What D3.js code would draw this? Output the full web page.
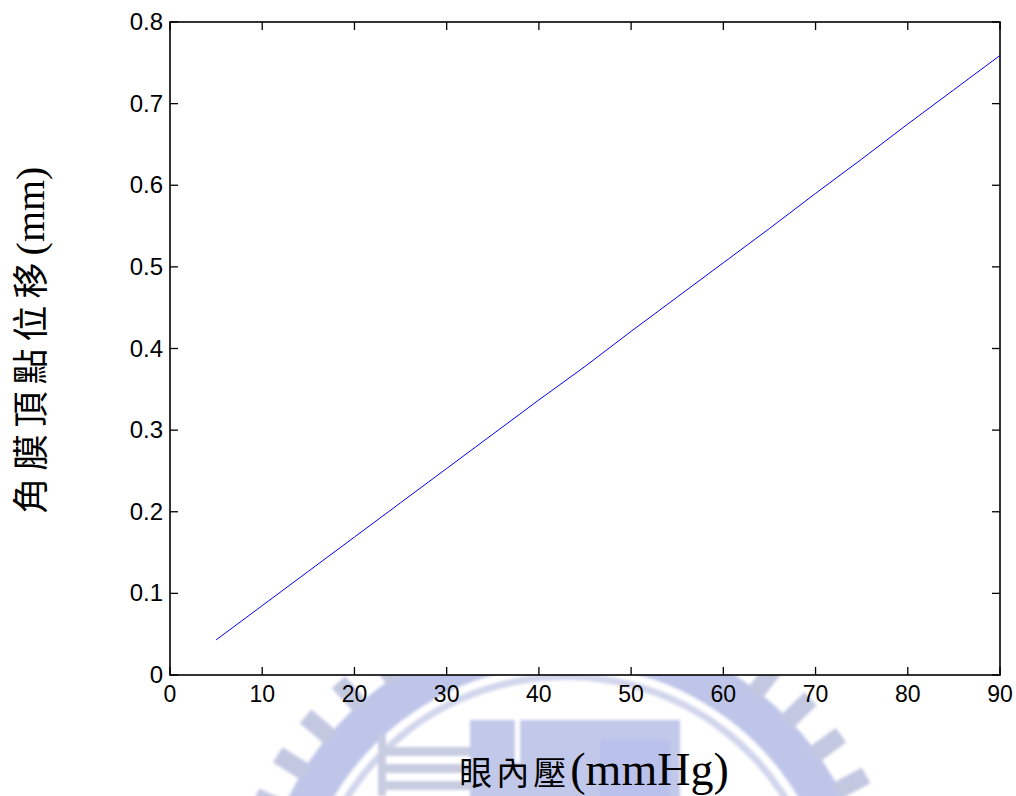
<!DOCTYPE html>
<html>
<head>
<meta charset="utf-8">
<script src="https://cdn.jsdelivr.net/npm/d3@7"></script>
<style>
  html, body { margin: 0; padding: 0; background: #fff; }
  svg { display: block; }
</style>
</head>
<body>
<svg id="chart" width="1016" height="796"></svg>
<script>
// Intraocular pressure (mmHg) vs. corneal apex displacement (mm)
const pressure = [5, 10, 15, 20, 25, 30, 35, 40, 45, 50, 55, 60, 65, 70, 75, 80, 85, 90];
const displacement = [0.043, 0.085, 0.127, 0.169, 0.211, 0.253, 0.295, 0.337, 0.378,
                      0.421, 0.463, 0.505, 0.547, 0.590, 0.632, 0.675, 0.717, 0.759];
const xTicks = [0, 10, 20, 30, 40, 50, 60, 70, 80, 90];
const yTicks = [0, 0.1, 0.2, 0.3, 0.4, 0.5, 0.6, 0.7, 0.8];
const xTitle = ["眼內壓", "(mmHg)"];
const yTitle = ["角膜頂點位移", "(mm)"];

const svg = d3.select("#chart");
const W = 1016, H = 796;
const m = { left: 170, right: 1000, top: 22, bottom: 675 };

const x = d3.scaleLinear().domain([0, 90]).range([m.left, m.right]);
const y = d3.scaleLinear().domain([0, 0.8]).range([m.bottom, m.top]);

// ---- faint university emblem behind the lower margin ----
const defs = svg.append("defs");
defs.append("filter").attr("id", "soft")
  .append("feGaussianBlur").attr("stdDeviation", 1.4);
defs.append("clipPath").attr("id", "below")
  .append("rect").attr("x", 0).attr("y", m.bottom).attr("width", W).attr("height", H - m.bottom);

const emb = svg.append("g").attr("clip-path", "url(#below)")
  .append("g").attr("filter", "url(#soft)").attr("opacity", 0.75);
const cx = 566, cy = 935;
const ring = emb.append("g").attr("transform", `translate(${cx},${cy})`);
ring.append("path")
  .attr("d", d3.arc().innerRadius(270).outerRadius(310)
    .startAngle(-75 * Math.PI / 180).endAngle(75 * Math.PI / 180)())
  .attr("fill", "#a9b2e2");
ring.append("path")
  .attr("d", d3.arc().innerRadius(255).outerRadius(262)
    .startAngle(-75 * Math.PI / 180).endAngle(75 * Math.PI / 180)())
  .attr("fill", "#c3c8e6");
d3.range(-74, 75, 8).forEach(a => {
  ring.append("rect")
    .attr("x", -9).attr("y", -340).attr("width", 18).attr("height", 34)
    .attr("fill", "#b0b6d8")
    .attr("transform", `rotate(${a})`);
});
emb.append("rect").attr("x", 470).attr("y", 720).attr("width", 210).attr("height", 80).attr("fill", "#aeb6e4");
emb.append("rect").attr("x", 515).attr("y", 718).attr("width", 5).attr("height", 45).attr("fill", "#ffffff");
emb.append("rect").attr("x", 600).attr("y", 740).attr("width", 70).attr("height", 60).attr("fill", "#a3ade6");
[747, 764, 781].forEach(yy => {
  emb.append("rect").attr("x", 378).attr("y", yy).attr("width", 92).attr("height", 9).attr("fill", "#b6bbd6");
});
emb.append("rect").attr("x", 378).attr("y", 735).attr("width", 8).attr("height", 61).attr("fill", "#b6bbd6");

// ---- plot area ----
svg.append("rect")
  .attr("x", m.left).attr("y", m.top)
  .attr("width", m.right - m.left).attr("height", m.bottom - m.top)
  .attr("fill", "#fff");

const tickLen = 8;
const axes = svg.append("g").attr("stroke", "#000").attr("stroke-width", 1.3);
xTicks.forEach(t => {
  axes.append("line").attr("x1", x(t)).attr("x2", x(t)).attr("y1", m.bottom).attr("y2", m.bottom - tickLen);
  axes.append("line").attr("x1", x(t)).attr("x2", x(t)).attr("y1", m.top).attr("y2", m.top + tickLen);
});
yTicks.forEach(t => {
  axes.append("line").attr("x1", m.left).attr("x2", m.left + tickLen).attr("y1", y(t)).attr("y2", y(t));
  axes.append("line").attr("x1", m.right).attr("x2", m.right - tickLen).attr("y1", y(t)).attr("y2", y(t));
});
axes.append("rect")
  .attr("x", m.left).attr("y", m.top)
  .attr("width", m.right - m.left).attr("height", m.bottom - m.top)
  .attr("fill", "none").attr("stroke-width", 1.6);

// tick labels
const tickFont = "'Liberation Sans', Arial, Helvetica, sans-serif";
svg.append("g").selectAll("text").data(xTicks).join("text")
  .attr("x", d => x(d)).attr("y", 702)
  .attr("text-anchor", "middle")
  .attr("font-family", tickFont).attr("font-size", 23)
  .text(d => d);
svg.append("g").selectAll("text").data(yTicks).join("text")
  .attr("x", m.left - 7).attr("y", d => y(d) + 8)
  .attr("text-anchor", "end")
  .attr("font-family", tickFont).attr("font-size", 24)
  .text(d => d === 0 ? "0" : d3.format(".1f")(d));

// data line
const line = d3.line().x((d, i) => x(pressure[i])).y(d => y(d));
svg.append("path")
  .datum(displacement)
  .attr("d", line)
  .attr("fill", "none")
  .attr("stroke", "#0000ff")
  .attr("stroke-width", 1);

// axis titles
const cjkFont = "'Noto Sans CJK TC', 'Noto Sans CJK SC', sans-serif";
const serifFont = "'Liberation Serif', 'Times New Roman', serif";
const xt = svg.append("text")
  .attr("x", 594).attr("y", 785)
  .attr("text-anchor", "middle");
xt.append("tspan").attr("font-family", cjkFont).attr("font-size", 33)
  .attr("letter-spacing", 4).text(xTitle[0]);
xt.append("tspan").attr("font-family", serifFont).attr("font-size", 46).text(xTitle[1]);

const yt = svg.append("text")
  .attr("transform", "translate(44,340) rotate(-90)")
  .attr("text-anchor", "middle");
yt.append("tspan").attr("font-family", cjkFont).attr("font-size", 36)
  .attr("letter-spacing", 7).text(yTitle[0]);
yt.append("tspan").attr("font-family", serifFont).attr("font-size", 40).text(yTitle[1]);
</script>
</body>
</html>
